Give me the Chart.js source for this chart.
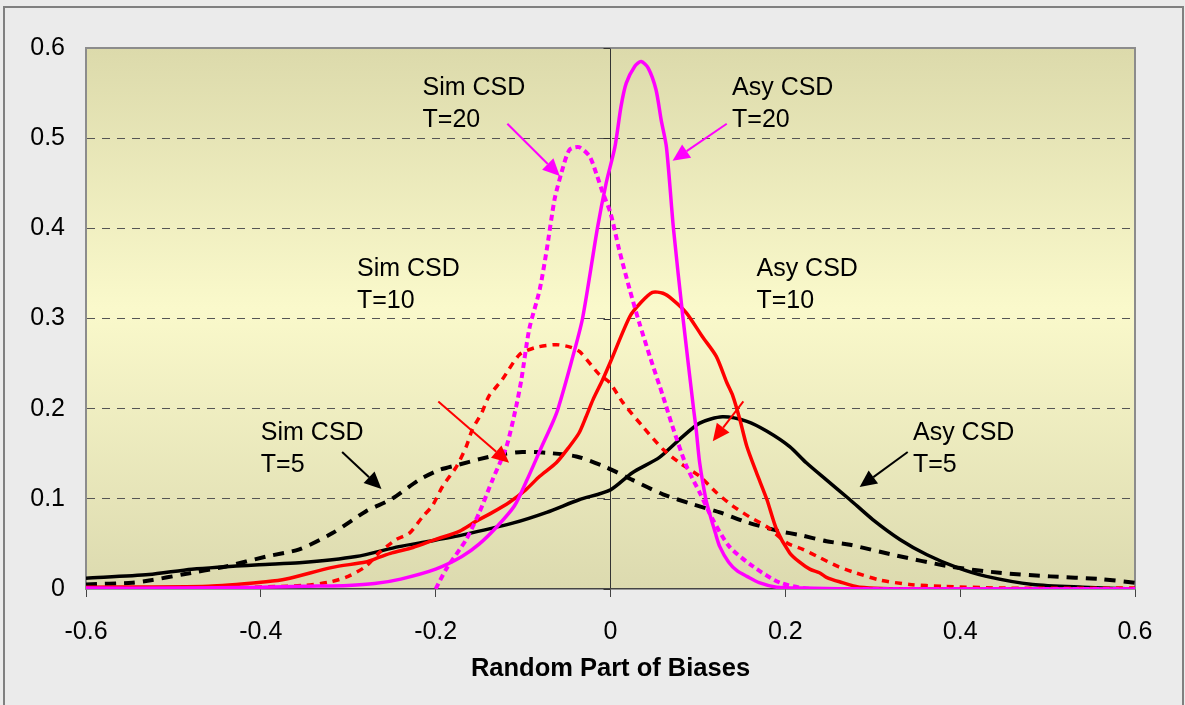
<!DOCTYPE html>
<html>
<head>
<meta charset="utf-8">
<script src="https://cdn.jsdelivr.net/npm/chart.js@4.4.1/dist/chart.umd.min.js"></script>
<style>
	body { margin: 0; background: #ebebeb; }
	#wrap { width: 1185px; height: 705px; }
</style>
</head>
<body>
<div id="wrap"><canvas id="chart" width="1185" height="705"></canvas></div>
<script>
// x ticks / y ticks
let xTicks = [-0.6, -0.4, -0.2, 0, 0.2, 0.4, 0.6]
let yTicks = [0, 0.1, 0.2, 0.3, 0.4, 0.5, 0.6]

// Asy CSD T=20 (magenta solid)
let asy20X = [-0.6, -0.5, -0.4, -0.35, -0.3, -0.27, -0.24, -0.2, -0.17, -0.15, -0.13, -0.11, -0.096, -0.08, -0.066, -0.06, -0.045, -0.032, -0.015, -0.005, 0.005, 0.012, 0.018, 0.028, 0.035, 0.043, 0.052, 0.058, 0.064, 0.072, 0.083, 0.095, 0.098, 0.102, 0.109, 0.113, 0.12, 0.125, 0.135, 0.145, 0.156, 0.17, 0.19, 0.22, 0.3, 0.45, 0.6]
let asy20Y = [0.001, 0.001, 0.002, 0.003, 0.004, 0.006, 0.011, 0.022, 0.036, 0.05, 0.069, 0.092, 0.12, 0.155, 0.185, 0.2, 0.251, 0.3, 0.4, 0.45, 0.49, 0.535, 0.561, 0.58, 0.585, 0.578, 0.554, 0.52, 0.49, 0.4, 0.3, 0.2, 0.177, 0.14, 0.1, 0.085, 0.062, 0.047, 0.03, 0.02, 0.014, 0.007, 0.002, 0.001, 0, 0, 0]

// Sim CSD T=20 (magenta dotted)
let sim20X = [-0.2, -0.188, -0.165, -0.15, -0.135, -0.119, -0.108, -0.102, -0.093, -0.081, -0.073, -0.064, -0.056, -0.047, -0.036, -0.024, -0.016, -0.009, 0, 0.01, 0.022, 0.033, 0.045, 0.06, 0.071, 0.087, 0.102, 0.117, 0.136, 0.163, 0.194, 0.23, 0.4, 0.6]
let sim20Y = [0, 0.022, 0.055, 0.085, 0.121, 0.158, 0.202, 0.232, 0.288, 0.332, 0.376, 0.432, 0.462, 0.487, 0.49, 0.48, 0.46, 0.44, 0.417, 0.376, 0.332, 0.295, 0.258, 0.214, 0.18, 0.136, 0.107, 0.077, 0.047, 0.025, 0.007, 0, 0, 0]

// Asy CSD T=10 (red solid)
let asy10X = [-0.6, -0.46, -0.394, -0.371, -0.318, -0.28, -0.265, -0.25, -0.226, -0.2, -0.173, -0.154, -0.135, -0.116, -0.097, -0.081, -0.062, -0.047, -0.036, -0.028, -0.02, -0.009, 0, 0.022, 0.035, 0.048, 0.06, 0.071, 0.087, 0.105, 0.121, 0.133, 0.14, 0.148, 0.156, 0.167, 0.179, 0.19, 0.205, 0.216, 0.228, 0.239, 0.247, 0.262, 0.285, 0.35, 0.6]
let asy10Y = [0.002, 0.003, 0.008, 0.011, 0.024, 0.03, 0.035, 0.04, 0.046, 0.055, 0.064, 0.075, 0.085, 0.096, 0.11, 0.125, 0.14, 0.158, 0.173, 0.191, 0.21, 0.232, 0.252, 0.302, 0.318, 0.329, 0.328, 0.321, 0.306, 0.28, 0.258, 0.229, 0.214, 0.188, 0.158, 0.129, 0.099, 0.066, 0.04, 0.03, 0.022, 0.018, 0.013, 0.008, 0.002, 0, 0]

// Sim CSD T=10 (red dotted)
let sim10X = [-0.6, -0.45, -0.35, -0.32, -0.3, -0.28, -0.265, -0.245, -0.23, -0.215, -0.204, -0.192, -0.176, -0.165, -0.158, -0.147, -0.139, -0.124, -0.104, -0.085, -0.062, -0.045, -0.035, -0.013, -0.001, 0.014, 0.037, 0.06, 0.079, 0.102, 0.121, 0.14, 0.159, 0.179, 0.202, 0.22, 0.239, 0.26, 0.277, 0.308, 0.342, 0.38, 0.45, 0.6]
let sim10Y = [0, 0.001, 0.004, 0.008, 0.014, 0.025, 0.04, 0.055, 0.062, 0.08, 0.092, 0.114, 0.136, 0.158, 0.177, 0.196, 0.214, 0.232, 0.26, 0.268, 0.271, 0.268, 0.263, 0.238, 0.229, 0.207, 0.18, 0.155, 0.14, 0.125, 0.107, 0.092, 0.08, 0.069, 0.051, 0.044, 0.035, 0.025, 0.019, 0.01, 0.005, 0.003, 0.001, 0.001]

// Asy CSD T=5 (black solid)
let asy5X = [-0.6, -0.528, -0.479, -0.402, -0.356, -0.291, -0.242, -0.207, -0.169, -0.112, -0.073, -0.036, 0, 0.025, 0.056, 0.079, 0.102, 0.128, 0.156, 0.179, 0.205, 0.224, 0.247, 0.274, 0.3, 0.331, 0.362, 0.396, 0.43, 0.483, 0.54, 0.6]
let asy5Y = [0.012, 0.016, 0.022, 0.027, 0.029, 0.036, 0.047, 0.053, 0.06, 0.073, 0.085, 0.099, 0.11, 0.129, 0.146, 0.166, 0.184, 0.191, 0.186, 0.175, 0.158, 0.14, 0.121, 0.099, 0.077, 0.055, 0.038, 0.024, 0.014, 0.005, 0.002, 0]

// Sim CSD T=5 (black dashed)
let sim5X = [-0.6, -0.547, -0.524, -0.49, -0.44, -0.394, -0.356, -0.318, -0.28, -0.25, -0.219, -0.196, -0.173, -0.15, -0.127, -0.101, -0.073, -0.039, -0.005, 0.025, 0.06, 0.094, 0.125, 0.156, 0.194, 0.216, 0.247, 0.274, 0.323, 0.388, 0.445, 0.503, 0.56, 0.6]
let sim5Y = [0.005, 0.007, 0.01, 0.016, 0.025, 0.036, 0.044, 0.062, 0.086, 0.1, 0.121, 0.132, 0.138, 0.144, 0.149, 0.152, 0.151, 0.147, 0.135, 0.121, 0.105, 0.094, 0.085, 0.074, 0.064, 0.06, 0.053, 0.049, 0.038, 0.025, 0.018, 0.014, 0.011, 0.007]

// annotations: text lines, text anchor and arrow (data units)
let notes = [
	{ text: ["Sim CSD", "T=20"], at: [-0.215, 0.555], from: [-0.118, 0.516], to: [-0.058, 0.458], color: "#ff00ff" },
	{ text: ["Asy CSD", "T=20"], at: [0.139, 0.555], from: [0.133, 0.516], to: [0.071, 0.475], color: "#ff00ff" },
	{ text: ["Sim CSD", "T=10"], at: [-0.290, 0.355], from: [-0.197, 0.208], to: [-0.116, 0.14], color: "#ff0000" },
	{ text: ["Asy CSD", "T=10"], at: [0.167, 0.355], from: [0.152, 0.208], to: [0.117, 0.164], color: "#ff0000" },
	{ text: ["Sim CSD", "T=5"], at: [-0.400, 0.173], from: [-0.307, 0.152], to: [-0.262, 0.111], color: "#000000" },
	{ text: ["Asy CSD", "T=5"], at: [0.346, 0.173], from: [0.340, 0.152], to: [0.285, 0.113], color: "#000000" },
]

function toPoints(xs, ys) {
	let pts = []
	for (let i = 0; i < xs.length; i++) { pts.push({ x: xs[i], y: ys[i] }) }
	return pts
}

function makeSet(label, xs, ys, color, width, dash) {
	return {
		label: label,
		data: toPoints(xs, ys),
		borderColor: color,
		borderWidth: width,
		borderDash: dash,
		borderCapStyle: "butt",
		pointRadius: 0,
		tension: 0.25,
		fill: false,
	}
}

const FONT = "'Liberation Sans', Arial, sans-serif"

const backgroundPlugin = {
	id: "bg",
	beforeDraw(chart) {
		const { ctx, chartArea } = chart
		ctx.save()
		ctx.fillStyle = "#ebebeb"
		ctx.fillRect(0, 0, chart.width, chart.height)
		ctx.strokeStyle = "#808080"
		ctx.lineWidth = 2
		ctx.strokeRect(4, 7, 1179, 705)

		let g = ctx.createLinearGradient(0, chartArea.top, 0, chartArea.bottom)
		g.addColorStop(0, "#dcdaab")
		g.addColorStop(0.48, "#faf9cb")
		g.addColorStop(1, "#dcdaaf")
		ctx.fillStyle = g
		ctx.fillRect(chartArea.left, chartArea.top, chartArea.right - chartArea.left, chartArea.bottom - chartArea.top)
		ctx.restore()
	},
	beforeDatasetsDraw(chart) {
		const { ctx, chartArea, scales } = chart
		ctx.save()
		// top and right border of the plot
		ctx.strokeStyle = "#8c8c8c"
		ctx.lineWidth = 2
		ctx.beginPath()
		ctx.moveTo(chartArea.left, chartArea.top)
		ctx.lineTo(chartArea.right, chartArea.top)
		ctx.lineTo(chartArea.right, chartArea.bottom)
		ctx.stroke()
		// small ticks on the zero line
		let x0 = scales.x.getPixelForValue(0)
		ctx.strokeStyle = "#333"
		ctx.lineWidth = 1
		for (let i = 0; i < yTicks.length; i++) {
			let y = Math.round(scales.y.getPixelForValue(yTicks[i])) + 0.5
			ctx.beginPath()
			ctx.moveTo(x0 - 7, y)
			ctx.lineTo(x0, y)
			ctx.stroke()
		}
		ctx.restore()
	},
	afterDatasetsDraw(chart) {
		const { ctx, scales } = chart
		ctx.save()
		ctx.font = "25px " + FONT
		ctx.textBaseline = "middle"
		ctx.textAlign = "left"
		for (let n of notes) {
			let tx = scales.x.getPixelForValue(n.at[0])
			let ty = scales.y.getPixelForValue(n.at[1])
			ctx.fillStyle = "#000"
			ctx.fillText(n.text[0], tx, ty)
			ctx.fillText(n.text[1], tx, ty + 32)

			let x1 = scales.x.getPixelForValue(n.from[0]), y1 = scales.y.getPixelForValue(n.from[1])
			let x2 = scales.x.getPixelForValue(n.to[0]), y2 = scales.y.getPixelForValue(n.to[1])
			let ang = Math.atan2(y2 - y1, x2 - x1)
			let len = 17, half = 8
			let bx = x2 - len * Math.cos(ang), by = y2 - len * Math.sin(ang)
			ctx.strokeStyle = n.color
			ctx.fillStyle = n.color
			ctx.lineWidth = 2
			ctx.beginPath()
			ctx.moveTo(x1, y1)
			ctx.lineTo(bx, by)
			ctx.stroke()
			ctx.beginPath()
			ctx.moveTo(x2, y2)
			ctx.lineTo(bx + half * Math.sin(ang), by - half * Math.cos(ang))
			ctx.lineTo(bx - half * Math.sin(ang), by + half * Math.cos(ang))
			ctx.closePath()
			ctx.fill()
		}
		ctx.restore()
	}
}

new Chart(document.getElementById("chart"), {
	type: "scatter",
	data: {
		datasets: [
			makeSet("Asy CSD T=20", asy20X, asy20Y, "#ff00ff", 3.5, []),
			makeSet("Sim CSD T=20", sim20X, sim20Y, "#ff00ff", 4, [6, 4]),
			makeSet("Asy CSD T=10", asy10X, asy10Y, "#ff0000", 3.5, []),
			makeSet("Sim CSD T=10", sim10X, sim10Y, "#ff0000", 3.5, [7, 6]),
			makeSet("Asy CSD T=5", asy5X, asy5Y, "#000000", 3.5, []),
			makeSet("Sim CSD T=5", sim5X, sim5Y, "#000000", 4, [11, 8]),
		]
	},
	options: {
		responsive: false,
		animation: false,
		showLine: true,
		layout: { padding: { top: 48, right: 50, left: 0, bottom: 0 } },
		plugins: {
			legend: { display: false },
			tooltip: { enabled: false },
		},
		scales: {
			x: {
				type: "linear",
				min: -0.6,
				max: 0.6,
				afterBuildTicks: (s) => { s.ticks = xTicks.map((v) => ({ value: v })) },
				afterFit: (s) => { s.height = 116 },
				ticks: {
					color: "#000",
					font: { family: FONT, size: 25 },
					padding: 20,
					maxRotation: 0,
					callback: (v) => (v === 0 ? "0" : String(Math.round(v * 10) / 10)),
				},
				grid: {
					color: (c) => (c.tick && c.tick.value === 0 ? "#333" : "rgba(0,0,0,0)"),
					lineWidth: 1,
					tickColor: "#444",
					tickLength: 8,
				},
				border: { display: true, color: "#444", width: 1.5 },
				title: {
					display: true,
					text: "Random Part of Biases",
					color: "#000",
					font: { family: FONT, size: 25.5, weight: "bold" },
					padding: { top: 0, bottom: 21 },
				},
			},
			y: {
				type: "linear",
				min: 0,
				max: 0.6,
				afterBuildTicks: (s) => { s.ticks = yTicks.map((v) => ({ value: v })) },
				afterFit: (s) => { s.width = 86 },
				ticks: {
					color: "#000",
					font: { family: FONT, size: 25 },
					padding: 21,
					callback: (v) => (v === 0 ? "0" : String(Math.round(v * 10) / 10)),
				},
				grid: {
					color: (c) => (c.tick && (c.tick.value === 0 || c.tick.value === 0.6) ? "rgba(0,0,0,0)" : "#555"),
					lineWidth: 1,
					drawTicks: false,
				},
				border: { display: true, color: "#8c8c8c", width: 2, dash: [8, 7] },
			}
		}
	},
	plugins: [backgroundPlugin]
});
</script>
</body>
</html>
